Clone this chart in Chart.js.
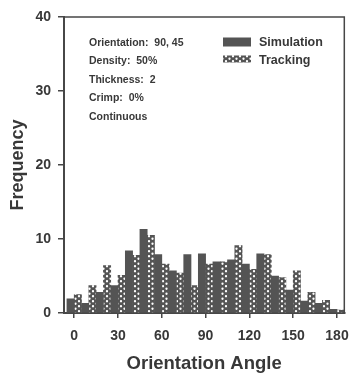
<!DOCTYPE html>
<html>
<head>
<meta charset="utf-8">
<script src="https://cdn.jsdelivr.net/npm/chart.js@4/dist/chart.umd.min.js"></script>
<style>
    html, body { margin: 0; padding: 0; background: #fff; }
    #chart { display: block; }
</style>
</head>
<body>
<canvas id="chart" width="359" height="380"></canvas>
<script>
// histogram bins (degrees) and counts
const angles = [0, 10, 20, 30, 40, 50, 60, 70, 80, 90, 100, 110, 120, 130, 140, 150, 160, 170, 180];
const simulation = [1.9, 1.3, 2.8, 3.7, 8.4, 11.3, 7.9, 5.7, 7.9, 8.0, 6.9, 7.2, 6.6, 8.0, 5.0, 3.1, 1.6, 1.3, 0.5];
const tracking = [2.5, 3.7, 6.4, 5.1, 7.8, 10.5, 6.6, 5.4, 3.7, 6.6, 6.9, 9.1, 5.9, 7.9, 4.8, 5.7, 2.8, 1.7, 0.4];
const xTicks = [0, 30, 60, 90, 120, 150, 180];
const yTicks = [0, 10, 20, 30, 40];
const seriesNames = ['Simulation', 'Tracking'];
const infoLines = ['Orientation:  90, 45', 'Density:  50%', 'Thickness:  2', 'Crimp:  0%', 'Continuous'];

const DARK = '#545454';
const AXIS = '#474747';
const TEXT = '#383838';
const FONT = '"Liberation Sans", Arial, sans-serif';

// white dots on dark grey, like the scanned "Tracking" fill
function dotPattern() {
    const c = document.createElement('canvas');
    c.width = 7;
    c.height = 5;
    const g = c.getContext('2d');
    g.fillStyle = DARK;
    g.fillRect(0, 0, 7, 5);
    g.fillStyle = '#fff';
    [[2, 1.25], [5.5, 3.75]].forEach(([x, y]) => {
        g.beginPath();
        g.arc(x, y, 1.15, 0, Math.PI * 2);
        g.fill();
    });
    return c.getContext('2d').createPattern(c, 'repeat');
}
const dots = dotPattern();

const boxPlugin = {
    id: 'box',
    afterDraw(chart) {
        const ctx = chart.ctx;
        const a = chart.chartArea;
        ctx.save();

        // top and right frame
        ctx.strokeStyle = AXIS;
        ctx.lineWidth = 1.5;
        ctx.beginPath();
        ctx.moveTo(a.left, a.top);
        ctx.lineTo(a.right, a.top);
        ctx.lineTo(a.right, a.bottom);
        ctx.stroke();

        // parameter notes
        ctx.fillStyle = TEXT;
        ctx.font = `bold 10.5px ${FONT}`;
        ctx.textBaseline = 'middle';
        infoLines.forEach((t, i) => {
            ctx.fillText(t, a.left + 25, a.top + 26 + i * 18.5);
        });

        // legend
        const fills = [DARK, dots];
        seriesNames.forEach((name, i) => {
            const y = a.top + 25 + i * 18;
            ctx.fillStyle = fills[i];
            ctx.fillRect(a.left + 159, y - 4.5, 28, i === 0 ? 9 : 7);
            ctx.fillStyle = TEXT;
            ctx.font = `bold 12.5px ${FONT}`;
            ctx.fillText(name, a.left + 195, y + 0.5);
        });
        ctx.restore();
    }
};

const chart = new Chart(document.getElementById('chart'), {
    type: 'bar',
    data: {
        datasets: [
            {
                label: seriesNames[0],
                data: angles.map((a, i) => ({ x: a, y: simulation[i] })),
                backgroundColor: DARK,
                borderWidth: 0,
                categoryPercentage: 1,
                barPercentage: 1,
            },
            {
                label: seriesNames[1],
                data: angles.map((a, i) => ({ x: a, y: tracking[i] })),
                backgroundColor: dots,
                borderWidth: 0,
                categoryPercentage: 1,
                barPercentage: 1,
            },
        ],
    },
    options: {
        responsive: false,
        devicePixelRatio: 1,
        animation: false,
        layout: { padding: { top: 17, right: 12, left: 0, bottom: 0 } },
        plugins: {
            legend: { display: false },
            tooltip: { enabled: false },
        },
        scales: {
            x: {
                type: 'linear',
                min: -7,
                max: 185,
                offset: false,
                grid: { offset: false, drawOnChartArea: false, drawTicks: true, tickLength: 5, color: AXIS, lineWidth: 1.5 },
                border: { color: AXIS, width: 2 },
                ticks: { color: TEXT, padding: 10, maxRotation: 0, font: { family: FONT, size: 14, weight: 'bold' } },
                afterBuildTicks: (s) => { s.ticks = xTicks.map((v) => ({ value: v })); },
                afterFit: (s) => { s.height = 67; },
                title: {
                    display: true,
                    text: 'Orientation Angle',
                    color: TEXT,
                    padding: { top: 0, bottom: 5 },
                    font: { family: FONT, size: 18.5, weight: 'bold' },
                },
            },
            y: {
                min: 0,
                max: 40,
                grid: { drawOnChartArea: false, drawTicks: true, tickLength: 6, color: AXIS, lineWidth: 1.5 },
                border: { color: AXIS, width: 2 },
                ticks: { color: TEXT, padding: 7, font: { family: FONT, size: 14, weight: 'bold' } },
                afterBuildTicks: (s) => { s.ticks = yTicks.map((v) => ({ value: v })); },
                afterFit: (s) => { s.width = 64; },
                title: {
                    display: true,
                    text: 'Frequency',
                    color: TEXT,
                    padding: { top: 7, bottom: 0 },
                    font: { family: FONT, size: 18, weight: 'bold' },
                },
            },
        },
    },
    plugins: [boxPlugin],
});
</script>
</body>
</html>
